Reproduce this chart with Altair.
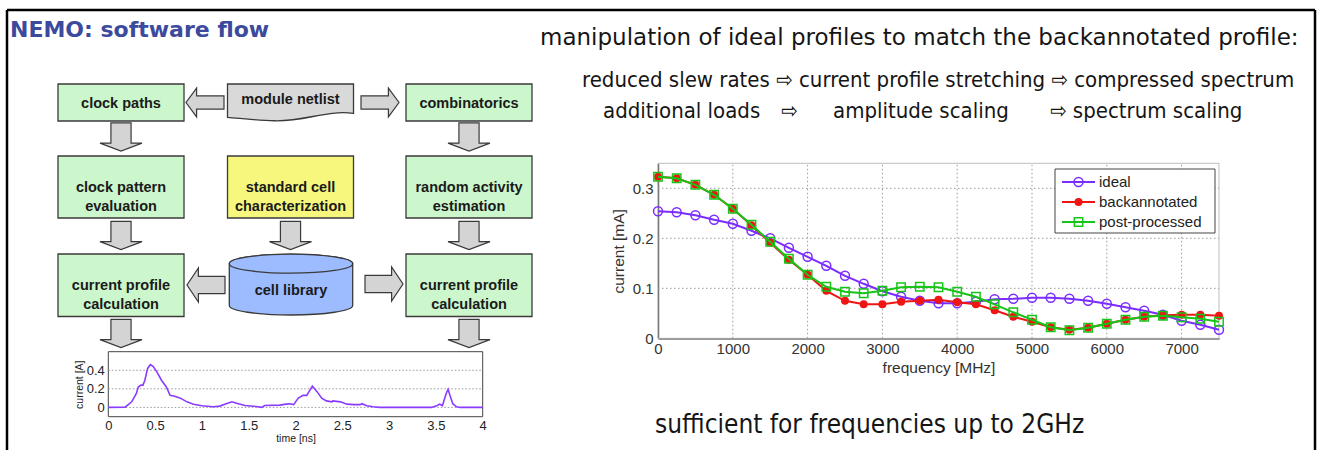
import altair as alt
import pandas as pd

W, H = 1321, 450

# ---------------- data ----------------
series_names = ["ideal", "backannotated", "post-processed"]
series_colors = ["#7b2cff", "#ef1515", "#17c417"]

freq_mhz = [0, 250, 500, 750, 1000, 1250, 1500, 1750, 2000, 2250, 2500, 2750, 3000, 3250, 3500,
            3750, 4000, 4250, 4500, 4750, 5000, 5250, 5500, 5750, 6000, 6250, 6500, 6750, 7000,
            7250, 7500]
ideal_ma = [0.254, 0.252, 0.246, 0.237, 0.229, 0.215, 0.200, 0.181, 0.163, 0.145, 0.125, 0.109,
            0.094, 0.083, 0.075, 0.070, 0.070, 0.073, 0.078, 0.079, 0.081, 0.081, 0.079, 0.075,
            0.069, 0.062, 0.055, 0.047, 0.035, 0.027, 0.017]
backannotated_ma = [0.323, 0.320, 0.307, 0.287, 0.259, 0.226, 0.191, 0.157, 0.127, 0.095, 0.075,
                    0.068, 0.068, 0.073, 0.075, 0.077, 0.072, 0.068, 0.056, 0.043, 0.033, 0.022,
                    0.017, 0.021, 0.029, 0.037, 0.043, 0.046, 0.047, 0.047, 0.045]
post_processed_ma = [0.323, 0.320, 0.307, 0.287, 0.259, 0.227, 0.193, 0.159, 0.127, 0.103, 0.093,
                     0.090, 0.095, 0.102, 0.103, 0.102, 0.093, 0.083, 0.068, 0.052, 0.037, 0.022,
                     0.016, 0.021, 0.029, 0.037, 0.043, 0.045, 0.042, 0.039, 0.033]
freq_ticks = [0, 1000, 2000, 3000, 4000, 5000, 6000, 7000]
current_ticks = [0, 0.1, 0.2, 0.3]
freq_domain = [0, 7500]
current_domain = [0, 0.35]

time_ns = [0, 0.18, 0.25, 0.30, 0.32, 0.35, 0.37, 0.39, 0.42, 0.45, 0.48, 0.52, 0.57, 0.62, 0.66,
           0.71, 0.77, 0.84, 0.91, 1.00, 1.12, 1.19, 1.26, 1.32, 1.37, 1.46, 1.58, 1.64, 1.67,
           1.83, 1.90, 1.94, 1.98, 2.03, 2.08, 2.12, 2.18, 2.23, 2.28, 2.33, 2.39, 2.40, 2.48,
           2.55, 2.62, 2.69, 2.71, 2.76, 2.83, 2.90, 3.45, 3.51, 3.54, 3.57, 3.61, 3.63, 3.65,
           3.68, 3.72, 3.76, 4.00]
current_a = [0, 0.002, 0.06, 0.15, 0.22, 0.24, 0.24, 0.29, 0.42, 0.46, 0.44, 0.38, 0.29, 0.22,
             0.13, 0.12, 0.10, 0.06, 0.035, 0.018, 0.007, 0.014, 0.04, 0.06, 0.045, 0.02, 0.01,
             0.0, 0.02, 0.025, 0.035, 0.04, 0.03, 0.10, 0.13, 0.13, 0.23, 0.17, 0.10, 0.07,
             0.06, 0.07, 0.06, 0.035, 0.03, 0.03, 0.04, 0.018, 0.007, 0.0, 0.0, 0.018, 0.035,
             0.02, 0.15, 0.196, 0.13, 0.04, 0.007, 0.0, 0.0]
time_ticks = [0, 0.5, 1, 1.5, 2, 2.5, 3, 3.5, 4]
wave_ticks = [0, 0.2, 0.4]
time_domain = [0, 4]
wave_domain = [-0.1, 0.6]

title_text = "NEMO: software flow"
headline = "manipulation of ideal profiles to match the backannotated profile:"
line1 = "reduced slew rates \u21e8 current profile stretching \u21e8 compressed spectrum"
line2_parts = ["additional loads", "\u21e8", "amplitude scaling", "\u21e8 spectrum scaling"]
footer = "sufficient for frequencies up to 2GHz"

flow_labels = ["clock paths", "combinatorics", "clock pattern\nevaluation",
               "random activity\nestimation", "current profile\ncalculation",
               "current profile\ncalculation"]
flow_cols = ["L", "R", "L", "R", "L", "R"]
flow_rows = [1, 1, 2, 2, 3, 3]
yellow_label = "standard cell\ncharacterization"
netlist_label = "module netlist"
library_label = "cell library"

# ---------------- layout (pixels) ----------------
COL_X = {"L": 121, "C": 290.5, "R": 469}
ROW_Y = {1: (84, 121), 2: (156, 218), 3: (254, 316.5)}
BOX_W = 126
MAIN_X = [658, 1219]
MAIN_Y = [338.3, 163.3]
INSET_X = [108.3, 482.7]
INSET_Y = [416.7, 351.7]

layers = []


def canvas_scales():
    return (alt.Scale(domain=[0, W], range=[0, W], nice=False, zero=False),
            alt.Scale(domain=[0, H], range=[0, H], nice=False, zero=False))


def cx(f):
    return alt.X(f, type="quantitative", scale=canvas_scales()[0], axis=None)


def cy(f):
    return alt.Y(f, type="quantitative", scale=canvas_scales()[1], axis=None)


def canvas_text(texts, xs, ys, **kw):
    df = pd.DataFrame({"t": texts, "x": xs, "y": ys})
    return alt.Chart(df).mark_text(**kw).encode(x=cx("x"), y=cy("y"), text="t:N")


# slide frame
frame_df = pd.DataFrame({"x0": [7, 7, 1315], "x1": [7, 1315, 1315],
                         "y0": [10, 10, 10], "y1": [H, 10, H]})
layers.append(alt.Chart(frame_df).mark_rule(color="black", strokeWidth=2.5).encode(
    x=cx("x0"), x2="x1", y=cy("y0"), y2="y1"))

# texts
layers.append(canvas_text([title_text], [10], [30], align="left", baseline="middle",
                          font="DejaVu Sans", fontWeight="bold", fontSize=22, color="#3c4a9e"))
layers.append(canvas_text([headline], [540], [38], align="left", baseline="middle",
                          font="DejaVu Sans", fontSize=23, color="#151515"))
cond = '"DejaVu Sans Condensed", "DejaVu Sans"'
layers.append(canvas_text([line1], [582], [80], align="left", baseline="middle",
                          font=cond, fontSize=22, color="#151515"))
layers.append(canvas_text(line2_parts, [603, 781, 833, 1050], [111] * 4, align="left",
                          baseline="middle", font=cond, fontSize=22, color="#151515"))
layers.append(canvas_text([footer], [655], [425], align="left", baseline="middle",
                          font=cond, fontSize=26, color="#151515"))

# flow diagram
boxes = pd.DataFrame({"label": flow_labels, "col": flow_cols, "row": flow_rows})
boxes["cx"] = boxes["col"].map(COL_X)
boxes["x0"] = boxes["cx"] - BOX_W / 2
boxes["x1"] = boxes["cx"] + BOX_W / 2
boxes["y0"] = boxes["row"].map(lambda r: ROW_Y[r][0])
boxes["y1"] = boxes["row"].map(lambda r: ROW_Y[r][1])
boxes["cy"] = (boxes["y0"] + boxes["y1"]) / 2 + 1

ybox = pd.DataFrame({"label": [yellow_label], "cx": [COL_X["C"]]})
ybox["x0"] = ybox["cx"] - BOX_W / 2
ybox["x1"] = ybox["cx"] + BOX_W / 2
ybox["y0"] = ROW_Y[2][0]
ybox["y1"] = ROW_Y[2][1]
ybox["cy"] = (ybox["y0"] + ybox["y1"]) / 2 + 1

DOWN = "M-0.48,-0.67 L0.48,-0.67 L0.48,0.29 L1,0.29 L0,0.67 L-1,0.29 L-0.48,0.29 Z"
RIGHT_S = "M-0.95,-0.33 L0.42,-0.33 L0.42,-0.72 L0.95,0 L0.42,0.72 L0.42,0.33 L-0.95,0.33 Z"
LEFT_S = "M0.95,-0.33 L-0.42,-0.33 L-0.42,-0.72 L-0.95,0 L-0.42,0.72 L-0.42,0.33 L0.95,0.33 Z"
RIGHT_L = "M-0.95,-0.43 L0.38,-0.43 L0.38,-0.85 L0.95,0 L0.38,0.85 L0.38,0.43 L-0.95,0.43 Z"
LEFT_L = "M0.95,-0.43 L-0.38,-0.43 L-0.38,-0.85 L-0.95,0 L-0.38,0.85 L-0.38,0.43 L0.95,0.43 Z"
arrows_df = pd.DataFrame({
    "x": [COL_X["L"], COL_X["R"], COL_X["L"], COL_X["C"], COL_X["R"], COL_X["L"], COL_X["R"],
          205, 380, 206, 384],
    "y": [137, 137, 235.5, 235.5, 235.5, 333.5, 333.5, 102.5, 102.5, 285, 284],
    "path": [DOWN] * 7 + [LEFT_S, RIGHT_S, LEFT_L, RIGHT_L],
    "size": [42 ** 2] * 7 + [40 ** 2] * 4,
})
layers.append(alt.Chart(arrows_df).mark_point(
    filled=True, fill="#d4d4d4", stroke="#3a3a3a", strokeWidth=1.2, opacity=1).encode(
    x=cx("x"), y=cy("y"), shape=alt.Shape("path:N", scale=None),
    size=alt.Size("size:Q", scale=None)))

layers.append(alt.Chart(boxes).mark_rect(fill="#ccf7cc", stroke="#3a3a3a", strokeWidth=1.3).encode(
    x=cx("x0"), x2="x1", y=cy("y0"), y2="y1"))
layers.append(alt.Chart(ybox).mark_rect(fill="#f7f77e", stroke="#3a3a3a", strokeWidth=1.3).encode(
    x=cx("x0"), x2="x1", y=cy("y0"), y2="y1"))

NETLIST = ("M-1,-0.294 L1,-0.294 L1,0.171 C0.55,0.12 0.25,0.3 -0.25,0.29 "
           "C-0.55,0.285 -0.8,0.25 -1,0.235 Z")
CYL_BODY = ("M-1,-0.339 L-1,0.339 A1,0.154 0 0 0 1,0.339 L1,-0.339 "
            "A1,0.154 0 0 0 -1,-0.339 Z")
CYL_TOP = "M-1,-0.339 A1,0.154 0 1 0 1,-0.339 A1,0.154 0 1 0 -1,-0.339 Z"
shapes_df = pd.DataFrame({
    "x": [COL_X["C"], 291, 291],
    "y": [102.5, 284.6, 284.6],
    "path": [NETLIST, CYL_BODY, CYL_TOP],
    "size": [126 ** 2, 123.4 ** 2, 123.4 ** 2],
    "kind": ["doc", "cyl", "cyl"],
})
layers.append(alt.Chart(shapes_df).transform_filter("datum.kind == 'doc'").mark_point(
    filled=True, fill="#d9d9d9", stroke="#3a3a3a", strokeWidth=1.3, opacity=1).encode(
    x=cx("x"), y=cy("y"), shape=alt.Shape("path:N", scale=None),
    size=alt.Size("size:Q", scale=None)))
layers.append(alt.Chart(shapes_df).transform_filter("datum.kind == 'cyl'").mark_point(
    filled=True, fill="#9dbcff", stroke="#3a3a3a", strokeWidth=1.3, opacity=1).encode(
    x=cx("x"), y=cy("y"), shape=alt.Shape("path:N", scale=None),
    size=alt.Size("size:Q", scale=None)))

box_font = dict(font="Liberation Sans", fontWeight="bold", fontSize=14.5, lineBreak="\n",
                lineHeight=19, align="center", baseline="middle", color="#1a1a1a")
layers.append(alt.Chart(boxes).mark_text(**box_font).encode(x=cx("cx"), y=cy("cy"), text="label:N"))
layers.append(alt.Chart(ybox).mark_text(**box_font).encode(x=cx("cx"), y=cy("cy"), text="label:N"))
layers.append(canvas_text([netlist_label, library_label], [COL_X["C"], 291], [100, 291], **box_font))

# ---------------- inset waveform ----------------
def sx_scale():
    return alt.Scale(domain=time_domain, range=INSET_X, nice=False, zero=False)


def sy_scale():
    return alt.Scale(domain=wave_domain, range=INSET_Y, nice=False, zero=False)


wave_df = pd.DataFrame({"t": time_ns, "i": current_a})
ibox_df = pd.DataFrame({"t0": [time_domain[0]], "t1": [time_domain[1]],
                        "i0": [wave_domain[0]], "i1": [wave_domain[1]]})
layers.append(alt.Chart(ibox_df).mark_rect(fillOpacity=0, stroke="#444444", strokeWidth=1).encode(
    x=alt.X("t0:Q", scale=sx_scale(), axis=None), x2="t1",
    y=alt.Y("i0:Q", scale=sy_scale(), axis=None), y2="i1"))
igrid_df = pd.DataFrame({"i": wave_ticks, "lo": time_domain[0], "hi": time_domain[1]})
layers.append(alt.Chart(igrid_df).mark_rule(color="#9a9a9a", strokeWidth=1, strokeDash=[1.5, 2]).encode(
    y=alt.Y("i:Q", scale=sy_scale(), axis=None), x=alt.X("lo:Q", scale=sx_scale(), axis=None), x2="hi"))
layers.append(alt.Chart(wave_df).mark_line(color="#8a3bff", strokeWidth=1.6).encode(
    x=alt.X("t:Q", scale=sx_scale(), axis=alt.Axis(
        orient="bottom", offset=-(H - INSET_Y[0]), values=time_ticks, format="~g", grid=False,
        ticks=False, domain=False, labelFont="Liberation Sans", labelFontSize=13,
        labelColor="#222222", labelPadding=3, labelFlush=False, labelOverlap=False,
        title="time [ns]", titleFont="Liberation Sans", titleFontSize=10.5,
        titleFontWeight="normal", titleColor="#222222", titlePadding=1)),
    y=alt.Y("i:Q", scale=sy_scale(), axis=alt.Axis(
        orient="left", offset=-INSET_X[0], values=wave_ticks, format="~g", grid=False,
        ticks=False, domain=False, labelFont="Liberation Sans", labelFontSize=13,
        labelColor="#222222", labelPadding=4, labelOverlap=False, title="current [A]",
        titleFont="Liberation Sans", titleFontSize=10.5, titleFontWeight="normal",
        titleColor="#222222", titlePadding=2))))

# ---------------- main chart ----------------
def mx_scale():
    return alt.Scale(domain=freq_domain, range=MAIN_X, nice=False, zero=False)


def my_scale():
    return alt.Scale(domain=current_domain, range=MAIN_Y, nice=False, zero=False)


main_df = pd.concat([
    pd.DataFrame({"series": name, "freq": freq_mhz, "current": vals})
    for name, vals in zip(series_names, [ideal_ma, backannotated_ma, post_processed_ma])
], ignore_index=True)

box_df = pd.DataFrame({"f0": [freq_domain[0]], "f1": [freq_domain[1]],
                       "c0": [current_domain[0]], "c1": [current_domain[1]]})
layers.append(alt.Chart(box_df).mark_rect(fillOpacity=0, stroke="#bdbdbd", strokeWidth=1).encode(
    x=alt.X("f0:Q", scale=mx_scale(), axis=None), x2="f1",
    y=alt.Y("c0:Q", scale=my_scale(), axis=None), y2="c1"))

vgrid_df = pd.DataFrame({"freq": freq_ticks[1:], "lo": current_domain[0], "hi": current_domain[1]})
hgrid_df = pd.DataFrame({"current": current_ticks[1:], "lo": freq_domain[0], "hi": freq_domain[1]})
grid_style = dict(color="#9a9a9a", strokeWidth=1, strokeDash=[1.5, 2.5])
layers.append(alt.Chart(vgrid_df).mark_rule(**grid_style).encode(
    x=alt.X("freq:Q", scale=mx_scale(), axis=None),
    y=alt.Y("lo:Q", scale=my_scale(), axis=None), y2="hi"))
layers.append(alt.Chart(hgrid_df).mark_rule(**grid_style).encode(
    y=alt.Y("current:Q", scale=my_scale(), axis=None),
    x=alt.X("lo:Q", scale=mx_scale(), axis=None), x2="hi"))

x_axis = alt.Axis(orient="bottom", offset=-(H - MAIN_Y[0]), values=freq_ticks, format="d",
                  grid=False, ticks=False, domainColor="#333333", domainWidth=1.4,
                  labelFont="Liberation Sans", labelFontSize=15, labelColor="#333333",
                  labelPadding=3, labelFlush=False, labelOverlap=False, title="frequency [MHz]",
                  titleFont="Liberation Sans", titleFontSize=15.5, titleFontWeight="normal",
                  titleColor="#333333", titlePadding=4)
y_axis = alt.Axis(orient="left", offset=-MAIN_X[0], values=current_ticks, format="~g",
                  grid=False, ticks=False, domainColor="#333333", domainWidth=1.4,
                  labelFont="Liberation Sans", labelFontSize=15, labelColor="#333333",
                  labelPadding=5, labelOverlap=False, title="current [mA]",
                  titleFont="Liberation Sans", titleFontSize=15.5, titleFontWeight="normal",
                  titleColor="#333333", titlePadding=6)

marker_defs = {
    "ideal": dict(shape="circle", filled=False, size=80, strokeWidth=1.5),
    "backannotated": dict(shape="circle", filled=True, size=64),
    "post-processed": dict(shape="square", filled=False, size=70, strokeWidth=1.5),
}

for i, (name, col) in enumerate(zip(series_names, series_colors)):
    base = alt.Chart(main_df).transform_filter(alt.datum.series == name)
    layers.append(base.mark_line(color=col, strokeWidth=2).encode(
        x=alt.X("freq:Q", scale=mx_scale(), axis=x_axis if i == 0 else None),
        y=alt.Y("current:Q", scale=my_scale(), axis=y_axis if i == 0 else None)))
    layers.append(base.mark_point(color=col, opacity=1, **marker_defs[name]).encode(
        x=alt.X("freq:Q", scale=mx_scale(), axis=None),
        y=alt.Y("current:Q", scale=my_scale(), axis=None)))

# legend box, drawn on the canvas on top of the plot
leg_rows = [182, 202, 222]
leg_box_df = pd.DataFrame({"x0": [1055], "x1": [1215], "y0": [169], "y1": [233]})
layers.append(alt.Chart(leg_box_df).mark_rect(fill="white", stroke="#444444", strokeWidth=1).encode(
    x=cx("x0"), x2="x1", y=cy("y0"), y2="y1"))
for name, col, yy in zip(series_names, series_colors, leg_rows):
    row = pd.DataFrame({"a": [1062], "b": [1095], "m": [1078.5], "y": [yy], "t": [name],
                        "tx": [1099]})
    layers.append(alt.Chart(row).mark_rule(color=col, strokeWidth=2).encode(
        x=cx("a"), x2="b", y=cy("y")))
    layers.append(alt.Chart(row).mark_point(color=col, opacity=1, **marker_defs[name]).encode(
        x=cx("m"), y=cy("y")))
    layers.append(alt.Chart(row).mark_text(align="left", baseline="middle",
                                           font="Liberation Sans", fontSize=15,
                                           color="#222222").encode(
        x=cx("tx"), y=cy("y"), text="t:N"))

chart = alt.layer(*layers).resolve_scale(
    x="independent", y="independent").resolve_axis(
    x="independent", y="independent").properties(
    width=W, height=H, autosize="none", padding=0, background="white").configure_view(strokeWidth=0)

chart.save("out.html", embed_options={"renderer": "svg", "actions": False})
